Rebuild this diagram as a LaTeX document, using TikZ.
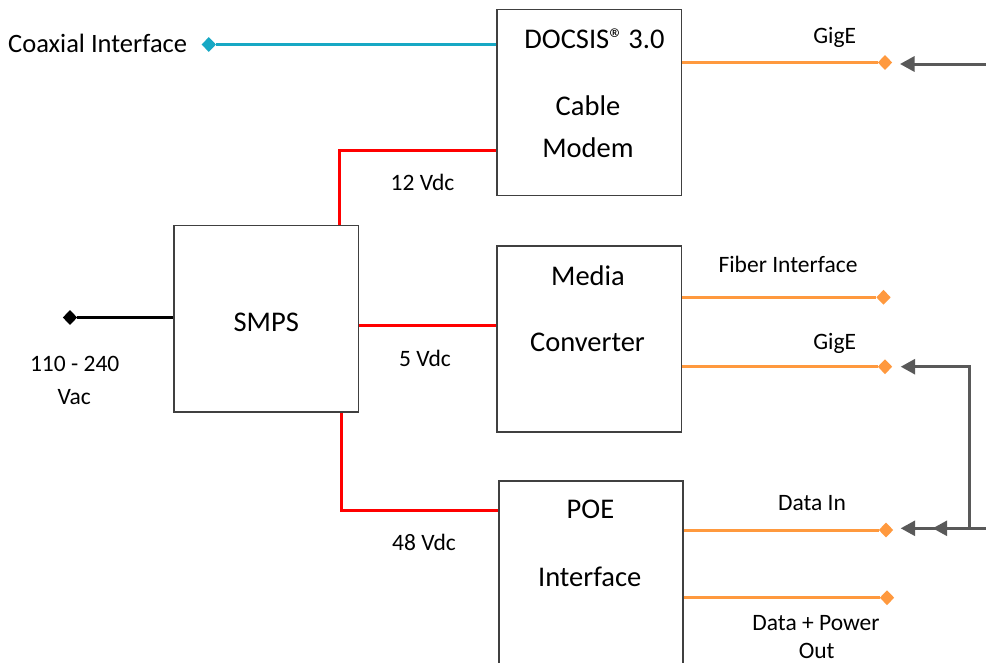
\documentclass[tikz,border=0pt]{standalone}
\usepackage{fontspec}
\setmainfont{Carlito}
\usetikzlibrary{arrows.meta,shapes.geometric}
\definecolor{coaxc}{RGB}{23,168,196}
\definecolor{ethc}{RGB}{255,153,62}
\definecolor{pwrc}{RGB}{255,0,0}
\definecolor{boxc}{RGB}{64,64,64}
\definecolor{arrc}{RGB}{89,89,89}
\begin{document}
\begin{tikzpicture}[x=1pt,y=-1pt,
  blk/.style={draw=boxc,line width=1.5pt,rectangle,inner sep=0pt},
  term/.style={diamond,fill=#1,inner sep=0pt,minimum width=14.5pt,minimum height=15pt},
  bigt/.style={anchor=base,inner sep=0pt,font=\fontsize{28.5}{34}\selectfont},
  smallt/.style={anchor=base,inner sep=0pt,font=\fontsize{23.5}{28}\selectfont},
  coaxline/.style={draw=coaxc,line width=3pt},
  ethline/.style={draw=ethc,line width=3pt},
  pwrline/.style={draw=pwrc,line width=3pt},
  acline/.style={draw=black,line width=3pt},
  garr/.style={draw=arrc,line width=3pt,-{Triangle[length=14.5pt,width=15pt]}}]
\clip (0,0) rectangle (986,662);
\fill[white] (0,0) rectangle (986,662);
% blocks
\node[blk,minimum width=184.5pt,minimum height=186pt] (cm) at (589,102.3) {};
\node[blk,minimum width=184.5pt,minimum height=186pt] (mc) at (589,339) {};
\node[blk,minimum width=184.5pt,minimum height=186.5pt] (smps) at (266.2,318.8) {};
\node[blk,minimum width=184pt,minimum height=199pt] (poe) at (591,580.5) {};
% block texts
\node[bigt] (t1) at (594.5,48) {DOCSIS®\,3.0};
\node[bigt] (t2) at (588,115) {Cable};
\node[bigt] (t3) at (588,157) {Modem};
\node[bigt] (t4) at (266.3,331.7) {SMPS};
\node[bigt] (t5) at (588,285) {Media};
\node[bigt] (t6) at (587.5,351.7) {Converter};
\node[bigt] (t7) at (590.4,518.7) {POE};
\node[bigt] (t8) at (589.7,586.7) {Interface};
% terminals
\node[term=coaxc] (coaxd) at (208.8,44.5) {};
\node[term=black] (acd) at (70,317.5) {};
\node[term=ethc] (g1d) at (885,62.5) {};
\node[term=ethc] (fid) at (883.5,297.3) {};
\node[term=ethc] (g2d) at (885,366.7) {};
\node[term=ethc] (did) at (886,530) {};
\node[term=ethc] (dpd) at (887,597.7) {};
% labels
\node[anchor=base west,inner sep=0pt,font=\fontsize{26.5}{31}\selectfont] (lcoax) at (8,52) {Coaxial Interface};
\node[smallt] (l12) at (422.5,190) {12 Vdc};
\node[smallt] (l5) at (425,366.7) {5 Vdc};
\node[smallt] (l48) at (424,550) {48 Vdc};
\node[smallt] (lac1) at (74.7,371.7) {110 - 240};
\node[smallt] (lac2) at (74.3,404) {Vac};
\node[smallt] (lg1) at (834.7,43) {GigE};
\node[smallt] (lfi) at (788,272.3) {Fiber Interface};
\node[smallt] (lg2) at (834.7,349.3) {GigE};
\node[smallt] (ldi) at (812,510.7) {Data In};
\node[smallt] (ldp1) at (816,630) {Data + Power};
\node[smallt] (ldp2) at (816.7,658) {Out};
% coordinates
\coordinate (p12) at (339,150);
\coordinate (p5) at (360,325);
\coordinate (p48) at (341,510);
\coordinate (r1) at (990,64);
\coordinate (a1) at (900,64);
\coordinate (v1) at (969,366.7);
\coordinate (v2) at (969,528.3);
\coordinate (a2) at (900.7,366.7);
\coordinate (r3) at (990,528.3);
\coordinate (a3) at (900.7,528.3);
\coordinate (a4) at (932.7,528.3);
% connectors
\draw[coaxline] (cm.west |- coaxd) -- (coaxd);
\draw[acline] (acd) -- (smps.west |- acd);
\draw[pwrline] (smps.north -| p12) |- (cm.west |- p12);
\draw[pwrline] (smps.east |- p5) -- (mc.west |- p5);
\draw[pwrline] (smps.south -| p48) |- (poe.west |- p48);
\draw[ethline] (cm.east |- g1d) -- (g1d);
\draw[ethline] (mc.east |- fid) -- (fid);
\draw[ethline] (mc.east |- g2d) -- (g2d);
\draw[ethline] (poe.east |- did) -- (did);
\draw[ethline] (poe.east |- dpd) -- (dpd);
\draw[garr] (r1) -- (a1);
\draw[garr] (v2) -- (v1) -- (a2);
\draw[garr] (r3) -- (a3);
\draw[garr] (v2) -- (a4);
\end{tikzpicture}
\end{document}
